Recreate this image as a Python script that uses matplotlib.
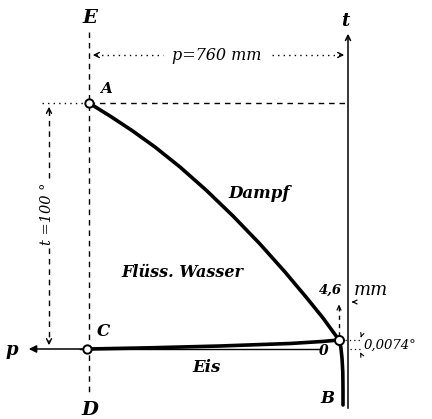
import matplotlib
matplotlib.use("Agg")
import matplotlib.pyplot as plt

# diagram drawn in page units (x to the right, y downward)
# boiling curve A -> O (liquid / vapour)
boil_x = [89, 110, 132, 155, 180, 206, 233, 260, 285, 306, 323, 339]
boil_y = [103, 116, 130.5, 147, 167, 190, 216, 244, 272, 297, 318, 340]
# melting curve C -> O (ice / liquid)
melt_x = [87, 150, 220, 290, 322, 339]
melt_y = [349, 347.8, 346, 343.5, 341.5, 340]
# sublimation curve O -> B (ice / vapour)
subl_x = [339, 340.8, 342, 342.8, 343, 343]
subl_y = [340, 347, 358, 372, 390, 405]

points = {"A": (89, 103), "C": (87, 349), "O": (339, 340)}
t_axis_x = 348
p_axis_y = 349

fig = plt.figure(figsize=(4.32, 4.19), dpi=100)
ax = fig.add_axes([0, 0, 1, 1])
ax.set_xlim(0, 432)
ax.set_ylim(419, 0)
ax.axis("off")

font = dict(family="DejaVu Serif", style="italic", weight="bold", color="black")
thin_font = dict(family="DejaVu Serif", style="italic", weight="normal", color="black")
ink = "black"

# axes of the diagram
ax.plot([t_axis_x, t_axis_x], [40, 408], color=ink, lw=1.1)
ax.annotate("", xy=(t_axis_x, 31), xytext=(t_axis_x, 42),
            arrowprops=dict(arrowstyle="->", color=ink, lw=1.1, mutation_scale=9))
ax.plot([80, 320], [p_axis_y, p_axis_y], color=ink, lw=1.0)
ax.annotate("", xy=(26, p_axis_y), xytext=(87, p_axis_y),
            arrowprops=dict(arrowstyle="-|>", color=ink, lw=1.1, mutation_scale=11))

# dashed guide E - D and the line A -> t axis
ax.plot([89, 89], [32, 392], color=ink, lw=1.0, ls=(0, (4, 3.5)))
ax.plot([89, t_axis_x], [103, 103], color=ink, lw=1.0, ls=(0, (4, 3.5)))
ax.plot([42, 89], [103, 103], color=ink, lw=1.0, ls=(0, (1, 3)))

# dimension p = 760 mm
ax.plot([96, 163], [55, 55], color=ink, lw=1.0, ls=(0, (1, 3)))
ax.plot([272, 340], [55, 55], color=ink, lw=1.0, ls=(0, (1, 3)))
ax.annotate("", xy=(90, 55), xytext=(100, 55),
            arrowprops=dict(arrowstyle="->", color=ink, lw=1.0, mutation_scale=9))
ax.annotate("", xy=(347, 55), xytext=(337, 55),
            arrowprops=dict(arrowstyle="->", color=ink, lw=1.0, mutation_scale=9))
ax.text(217, 55, "p=760 mm", ha="center", va="center", fontsize=11.5, **thin_font)

# dimension t = 100 degrees
ax.plot([49, 49], [110, 180], color=ink, lw=1.0, ls=(0, (4, 3.5)))
ax.plot([49, 49], [248, 342], color=ink, lw=1.0, ls=(0, (4, 3.5)))
ax.annotate("", xy=(49, 104), xytext=(49, 114),
            arrowprops=dict(arrowstyle="->", color=ink, lw=1.0, mutation_scale=9))
ax.annotate("", xy=(49, 348), xytext=(49, 338),
            arrowprops=dict(arrowstyle="->", color=ink, lw=1.0, mutation_scale=9))
ax.text(47, 214, "t =100 °", ha="center", va="center", rotation=90, fontsize=10.5, **thin_font)

# phase boundaries
ax.plot(boil_x, boil_y, color=ink, lw=2.6, solid_capstyle="round", solid_joinstyle="round")
ax.plot(melt_x, melt_y, color=ink, lw=2.6, solid_capstyle="round")
ax.plot(subl_x, subl_y, color=ink, lw=2.6, solid_capstyle="round")

# dimension 4,6 mm at the triple point
ax.plot([339, 339], [336, 306], color=ink, lw=1.0, ls=(0, (3, 3)))
ax.annotate("", xy=(339, 302), xytext=(339, 310),
            arrowprops=dict(arrowstyle="->", color=ink, lw=0.9, mutation_scale=7))
ax.annotate("", xy=(349, 302), xytext=(356, 302),
            arrowprops=dict(arrowstyle="->", color=ink, lw=0.9, mutation_scale=7))
ax.text(330, 290, "4,6", ha="center", va="center", fontsize=9.5, **font)
ax.text(371, 290, "mm", ha="center", va="center", fontsize=13, **thin_font)

# dimension 0,0074 degrees
ax.plot([345, 360], [340, 340], color=ink, lw=0.9, ls=(0, (1, 2.5)))
ax.plot([350, 360], [349, 349], color=ink, lw=0.9, ls=(0, (1, 2.5)))
ax.annotate("", xy=(360, 340), xytext=(362, 334),
            arrowprops=dict(arrowstyle="->", color=ink, lw=0.8, mutation_scale=6))
ax.annotate("", xy=(359, 350), xytext=(362, 356),
            arrowprops=dict(arrowstyle="->", color=ink, lw=0.8, mutation_scale=6))
ax.text(364, 345, "0,0074°", ha="left", va="center", fontsize=9.5, **thin_font)

# marked points
for name, (px, py) in points.items():
    ax.plot(px, py, "o", ms=6.5 if name == "O" else 6, mfc="white", mec=ink, mew=1.4, zorder=5)

# letters and region names
ax.text(90, 18, "E", ha="center", va="center", fontsize=14, **font)
ax.text(90, 410, "D", ha="center", va="center", fontsize=14, **font)
ax.text(345, 21, "t", ha="center", va="center", fontsize=13, **font)
ax.text(12, 350, "p", ha="center", va="center", fontsize=13, **font)
ax.text(106, 89, "A", ha="center", va="center", fontsize=11, **font)
ax.text(103, 331, "C", ha="center", va="center", fontsize=12, **font)
ax.text(324, 351, "0", ha="center", va="center", fontsize=10, **font)
ax.text(327, 398, "B", ha="center", va="center", fontsize=12, **font)
ax.text(259, 193, "Dampf", ha="center", va="center", fontsize=12, **font)
ax.text(182, 272, "Flüss. Wasser", ha="center", va="center", fontsize=11.5, **font)
ax.text(207, 367, "Eis", ha="center", va="center", fontsize=12, **font)

fig.savefig("out.png", dpi=100)
